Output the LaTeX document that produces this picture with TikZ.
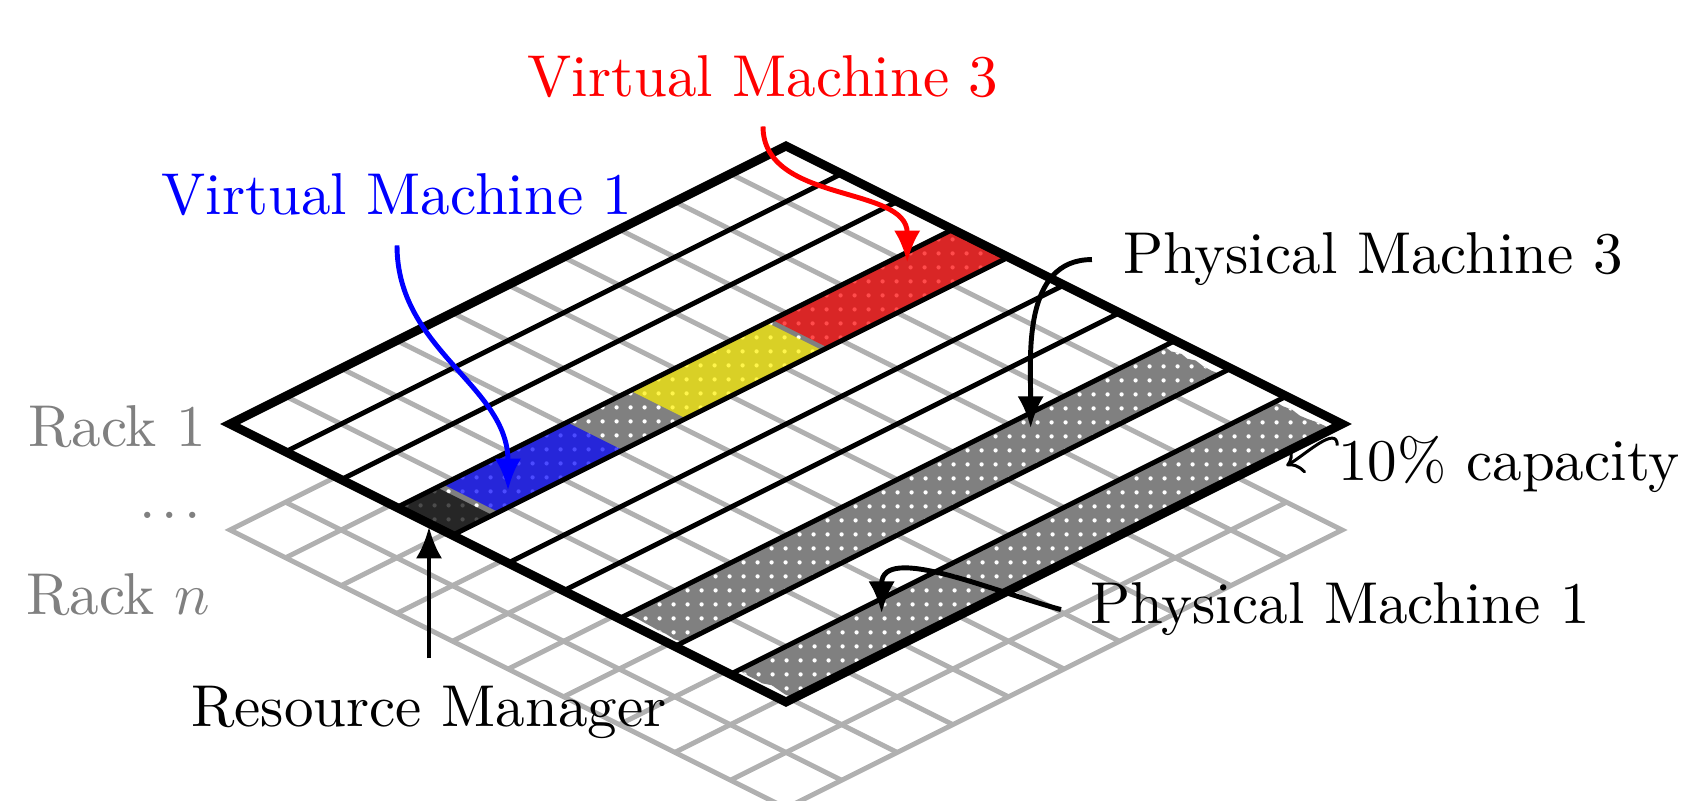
\documentclass[tikz,border=0pt]{standalone}
\usetikzlibrary{arrows.meta,patterns.meta,decorations.pathmorphing}
\definecolor{gridgray}{gray}{0.69}
\definecolor{labelgray}{gray}{0.5}
\pgfmathsetseed{7}
\tikzset{
  lbl/.style={scale=1.68, inner sep=0pt, anchor=base},
  rackframe/.style={line width=2.5pt, line join=miter},
  slotline/.style={gridgray, line width=1.4pt},
  machineline/.style={line width=1.4pt},
  pointer/.style={line width=1.4pt, -{Latex[length=9pt,width=7.5pt]}},
  usedcap/.style={fill=gray, decorate, decoration={random steps, segment length=2.5pt, amplitude=0.5pt},
    postaction={pattern={Dots[distance=4pt,radius=0.65pt]}, pattern color=white}},
  vmblock/.style={fill=#1, fill opacity=0.7},
  rackaxes/.style={x={(0.556cm,-0.278cm)}, y={(0.556cm,0.278cm)}},
}
\begin{document}
\begin{tikzpicture}
\useasboundingbox (0,0) rectangle (16.87,8);
\clip (0,0) rectangle (16.87,8);

% Rack n: plain grey slot grid
\begin{scope}[shift={(2.30,2.70)}, rackaxes]
  \foreach \k in {1,...,9} {
    \draw[slotline] (\k,0) -- (\k,10);
    \draw[slotline] (0,\k) -- (10,\k);
  }
  \draw[slotline] (0,0) -- (10,0) -- (10,10) -- (0,10) -- cycle;
\end{scope}

% Rack 1: machines as strips, slots as grey cross lines
\begin{scope}[shift={(2.30,3.76)}, rackaxes]
  \fill[white] (0,0) -- (10,0) -- (10,10) -- (0,10) -- cycle;
  \foreach \k in {1,...,9} \draw[slotline] (0,\k) -- (10,\k);

  % machine hosting the virtual machines
  \path[usedcap] (3,0) -- (4,0) -- (4,10) -- (3,10) -- cycle;
  \fill[vmblock=black]  (3,0.05) -- (4,0.05) -- (4,0.72) -- (3,0.72) -- cycle;
  \fill[vmblock=blue]   (3,0.83) -- (4,0.83) -- (4,3.06) -- (3,3.06) -- cycle;
  \fill[vmblock=yellow] (3,4.20) -- (4,4.20) -- (4,6.65) -- (3,6.65) -- cycle;
  \fill[vmblock=red]    (3,6.75) -- (4,6.75) -- (4,9.95) -- (3,9.95) -- cycle;

  % fully used physical machines
  \path[usedcap] (7,0.15) -- (8,0.15) -- (8,9.8) -- (7,9.8) -- cycle;
  \path[usedcap] (9,0.15) -- (10,0.15) -- (10,9.8) -- (9,9.8) -- cycle;

  \foreach \k in {1,...,9} \draw[machineline] (\k,0) -- (\k,10);
  \draw[rackframe] (0,0) -- (10,0) -- (10,10) -- (0,10) -- cycle;

  \coordinate (rmTip) at (3.65,-0.05);
  \coordinate (vmOneTip) at (3.69,1.31);
  \coordinate (vmThreeTip) at (3.18,9.0);
  \coordinate (pmThreeTip) at (7.27,7.13);
  \coordinate (pmOneTip) at (9.26,2.46);
  \coordinate (capTip) at (10.25,8.75);
\end{scope}

% labels
\node[lbl, red] (vm3) at (7.63,7.03) {Virtual Machine 3};
\node[lbl, blue] (vm1) at (3.97,5.85) {Virtual Machine 1};
\node[lbl] (pm3) at (13.73,5.26) {Physical Machine 3};
\node[lbl] (pm1) at (13.40,1.76) {Physical Machine 1};
\node[lbl] (cap) at (15.09,3.19) {10\% capacity};
\node[lbl] (rm) at (4.29,0.74) {Resource Manager};
\node[lbl, labelgray] (rackone) at (1.17,3.535) {Rack 1};
\node[lbl, labelgray] (rackdots) at (1.70,2.81) {.\kern1pt.\kern1pt.};
\node[lbl, labelgray] (rackn) at (1.18,1.85) {Rack $n$};

% pointers
\draw[pointer, red] ([yshift=-0.27cm]vm3.south) to[out=-90,in=90] (vmThreeTip);
\draw[pointer, blue] ([yshift=-0.28cm]vm1.south) to[out=-90,in=90] (vmOneTip);
\draw[pointer] ([xshift=-0.3cm]pm3.west) to[out=180,in=90] (pmThreeTip);
\draw[pointer] ([xshift=-0.28cm]pm1.west) to[out=165,in=90] (pmOneTip);
\draw[pointer] ([yshift=0.26cm]rm.north) -- (rm.north |- rmTip);
\draw[line width=0.85pt, -{To[length=4pt,width=9pt]}] ([yshift=-0.1cm]cap.north west) to[out=90,in=30] (capTip);
\end{tikzpicture}
\end{document}
